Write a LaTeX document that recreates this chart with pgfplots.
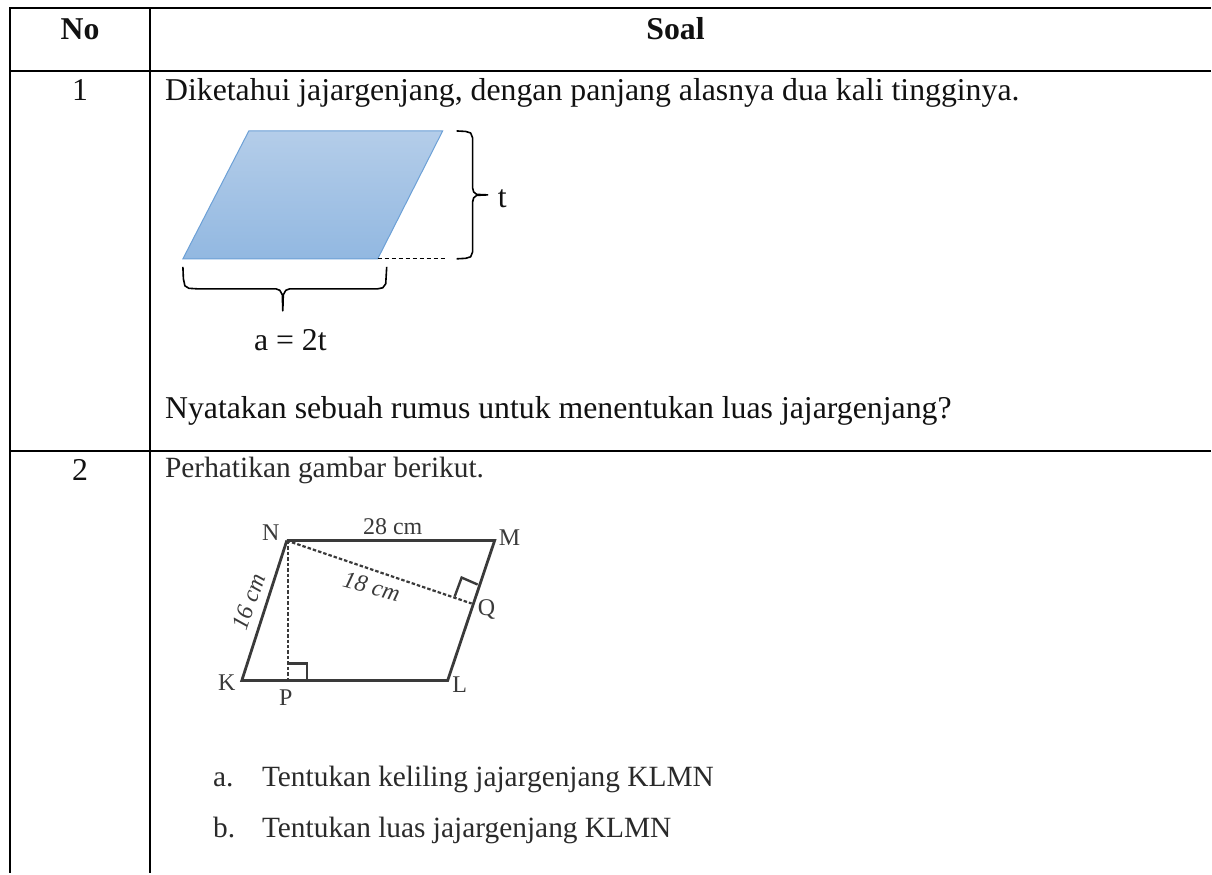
\documentclass[border=0pt]{standalone}
\usepackage{pgfplots}
\pgfplotsset{compat=1.18}
\usepackage{fontspec}
\setmainfont{Liberation Serif}
\definecolor{ink}{HTML}{111111}
\definecolor{soft}{HTML}{2A2A2A}
\definecolor{fig}{HTML}{3A3A3A}
\newcommand{\fsa}{\fontsize{31.8}{36}\selectfont}
\newcommand{\fsb}{\fontsize{29.4}{34}\selectfont}
\newcommand{\fsc}{\fontsize{24}{28}\selectfont}
\begin{document}
\begin{tikzpicture}
\begin{axis}[hide axis, scale only axis, width=1212pt, height=874pt,
  xmin=0, xmax=1212, ymin=0, ymax=874, y dir=reverse, clip=false]
\addplot[white, line width=0.1pt] coordinates {(0,0) (1212,0) (1212,874) (0,874) (0,0)};
% table rules
\addplot[black, line width=2pt] coordinates {(10,8) (1212,8)};
\addplot[black, line width=2pt] coordinates {(10,70.7) (1212,70.7)};
\addplot[black, line width=2pt] coordinates {(10,451) (1212,451)};
\addplot[black, line width=2pt] coordinates {(10,7) (10,874)};
\addplot[black, line width=2pt] coordinates {(150,7) (150,874)};
% parallelogram
\addplot[draw={rgb,255:red,108;green,160;blue,214}, line width=1pt, top color={rgb,255:red,180;green,205;blue,233}, bottom color={rgb,255:red,146;green,184;blue,225}] coordinates {(249,131) (443,131) (378,259) (183,259)} -- cycle;
\addplot[black, line width=1pt, dash pattern=on 4pt off 3pt] coordinates {(378,259) (447,259)};
% right brace
\addplot[black, line width=1.6pt, line join=round] coordinates {(457,131) (466,131.5) (471,133) (473,138) (473,188) (474,192) (477,194.5) (488,195) (477,195.5) (474,198) (473,202) (473,252) (471,257) (466,258.5) (457,259)};
% bottom brace
\addplot[black, line width=1.6pt, line join=round] coordinates {(183,267) (183.5,279) (185,286) (189,288.5) (197,289) (276,289) (280,290.5) (282.5,295) (283,311) (283.5,295) (286,290.5) (290,289) (378,289) (383,288) (386,284) (387,267)};
% figure 2
\addplot[fig, line width=2.8pt, line join=miter] coordinates {(287,541) (495,541) (448,681) (242,681) (287,541)};
\addplot[fig, line width=2.2pt, dash pattern=on 3.5pt off 2pt] coordinates {(287,541) (472,604)};
\addplot[fig, line width=2.2pt, dash pattern=on 3.5pt off 2pt] coordinates {(288,541) (288,681)};
\addplot[fig, line width=2.4pt] coordinates {(288,664) (307,664) (307,681)};
\addplot[fig, line width=2.4pt] coordinates {(455,597) (462,578) (478,585)};
% text
\tikzset{every node/.append style={inner sep=0pt}}
\node[anchor=base, ink] at (axis cs:80,39) {\fsa\bfseries No};
\node[anchor=base, ink] at (axis cs:676,39) {\fsa\bfseries Soal};
\node[anchor=base, ink] at (axis cs:80,101) {\fsa 1};
\node[anchor=base west, ink] at (axis cs:165,101) {\fsa Diketahui jajargenjang, dengan panjang alasnya dua kali tingginya.};
\node[anchor=base west, ink] at (axis cs:498,208) {\fsa t};
\node[anchor=base west, ink] at (axis cs:254,351) {\fsa a = 2t};
\node[anchor=base west, ink] at (axis cs:165,419) {\fsa Nyatakan sebuah rumus untuk menentukan luas jajargenjang?};
\node[anchor=base, ink] at (axis cs:80,481) {\fsa 2};
\node[anchor=base west, soft] at (axis cs:165,478) {\fsb Perhatikan gambar berikut.};
\node[anchor=base west, soft] at (axis cs:213,787) {\fsb a.};
\node[anchor=base west, soft] at (axis cs:262,787) {\fsb Tentukan keliling jajargenjang KLMN};
\node[anchor=base west, soft] at (axis cs:213,838) {\fsb b.};
\node[anchor=base west, soft] at (axis cs:262,838) {\fsb Tentukan luas jajargenjang KLMN};
% figure labels
\node[fig] at (axis cs:271,533) {\fsc N};
\node[fig] at (axis cs:393,527) {\fsc 28 cm};
\node[fig] at (axis cs:510,538) {\fsc M};
\node[fig] at (axis cs:487,610) {\fsc Q};
\node[fig] at (axis cs:460,685) {\fsc L};
\node[fig] at (axis cs:227,683) {\fsc K};
\node[fig] at (axis cs:286,698) {\fsc P};
\node[fig, rotate=71] at (axis cs:249,602) {\fsc \itshape 16 cm};
\node[fig, rotate=-15] at (axis cs:372,587) {\fsc \itshape 18 cm};
\end{axis}
\end{tikzpicture}
\end{document}
